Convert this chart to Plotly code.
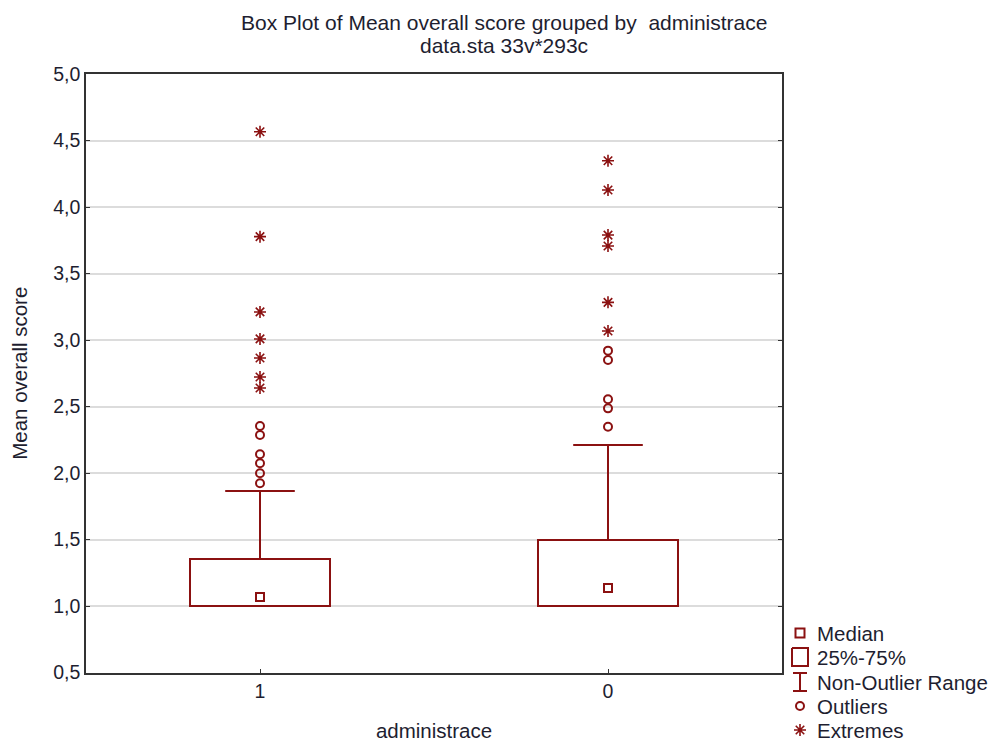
import plotly.graph_objects as go

# ---- data ----
groups = ["1", "0"]
q1 = [1.0, 1.0]
q3 = [1.353, 1.496]
median = [1.068, 1.135]
whisker_low = [1.0, 1.0]
whisker_high = [1.865, 2.211]
outliers_1 = [1.923, 1.998, 2.073, 2.141, 2.286, 2.353]
outliers_0 = [2.348, 2.486, 2.554, 2.850, 2.920]
extremes_1 = [2.639, 2.722, 2.865, 3.008, 3.211, 3.777, 4.566]
extremes_0 = [3.068, 3.283, 3.707, 3.789, 4.128, 4.348]
y_ticks = [0.5, 1.0, 1.5, 2.0, 2.5, 3.0, 3.5, 4.0, 4.5, 5.0]
legend_labels = ["Median", "25%-75%", "Non-Outlier Range", "Outliers", "Extremes"]

RED = "#8B1111"
TXT = "#1e1e30"
FONT = "Liberation Sans, Arial, sans-serif"
FS = 20.5
FT = 19.5

W, H = 992, 742
ML, MR, MT, MB = 86, 2, 74, 5
PW, PH = W - ML - MR, H - MT - MB
plot_right, plot_bottom = 782, 672.5

xpos = list(range(len(groups)))
fig = go.Figure()

# boxes (25%-75%)
fig.add_trace(go.Bar(
    x=xpos, base=q1, y=[b - a for a, b in zip(q1, q3)], width=0.4,
    marker=dict(color="white", line=dict(color=RED, width=2)),
    showlegend=False, hoverinfo="skip"))

# whiskers with caps
wx, wy = [], []
for i, (lo, hi, a, b) in enumerate(zip(whisker_low, whisker_high, q1, q3)):
    wx += [i, i, None, i - 0.1, i + 0.1, None, i, i, None]
    wy += [b, hi, None, hi, hi, None, a, lo, None]
fig.add_trace(go.Scatter(x=wx, y=wy, mode="lines", line=dict(color=RED, width=2),
                         showlegend=False, hoverinfo="skip"))

# medians
fig.add_trace(go.Scatter(x=xpos, y=median, mode="markers",
                         marker=dict(symbol="square-open", size=8, color=RED, line=dict(width=2)),
                         showlegend=False))
# outliers
ox = [0] * len(outliers_1) + [1] * len(outliers_0)
fig.add_trace(go.Scatter(x=ox, y=outliers_1 + outliers_0, mode="markers",
                         marker=dict(symbol="circle-open", size=8, color=RED, line=dict(width=2)),
                         showlegend=False))
# extremes
ex = [0] * len(extremes_1) + [1] * len(extremes_0)
fig.add_trace(go.Scatter(x=ex, y=extremes_1 + extremes_0, mode="markers",
                         marker=dict(symbol="asterisk-open", size=10, color=RED, line=dict(width=1.6)),
                         showlegend=False))

# ---- custom legend drawn on an overlay axis measured in pixels ----
lx = 800
rows = [633, 657, 682, 706, 730]
fig.add_trace(go.Scatter(x=[lx], y=[rows[0]], xaxis="x2", yaxis="y2", mode="markers",
                         marker=dict(symbol="square-open", size=9, color=RED, line=dict(width=2)),
                         showlegend=False, hoverinfo="skip"))
fig.add_trace(go.Scatter(x=[lx - 8, lx + 8, lx + 8, lx - 8, lx - 8], y=[rows[1] - 9, rows[1] - 9, rows[1] + 9, rows[1] + 9, rows[1] - 9],
                         xaxis="x2", yaxis="y2", mode="lines", line=dict(color=RED, width=2),
                         showlegend=False, hoverinfo="skip"))
fig.add_trace(go.Scatter(x=[lx - 7, lx + 7, None, lx, lx, None, lx - 7, lx + 7],
                         y=[rows[2] - 9, rows[2] - 9, None, rows[2] - 9, rows[2] + 9, None, rows[2] + 9, rows[2] + 9],
                         xaxis="x2", yaxis="y2", mode="lines", line=dict(color=RED, width=2),
                         showlegend=False, hoverinfo="skip"))
fig.add_trace(go.Scatter(x=[lx], y=[rows[3]], xaxis="x2", yaxis="y2", mode="markers",
                         marker=dict(symbol="circle-open", size=8, color=RED, line=dict(width=2)),
                         showlegend=False, hoverinfo="skip"))
fig.add_trace(go.Scatter(x=[lx], y=[rows[4]], xaxis="x2", yaxis="y2", mode="markers",
                         marker=dict(symbol="asterisk-open", size=10, color=RED, line=dict(width=1.6)),
                         showlegend=False, hoverinfo="skip"))

annotations = []
for r, lab in zip(rows, legend_labels):
    annotations.append(dict(x=815, y=r, xref="x2", yref="y2", text=lab, showarrow=False,
                            xanchor="left", yanchor="middle", font=dict(size=FS, color=TXT, family=FONT)))
# title lines
annotations.append(dict(x=(504 - ML) / PW, y=(H - MB - 22) / PH, xref="paper", yref="paper",
                        text="Box Plot of Mean overall score grouped by  administrace", showarrow=False,
                        xanchor="center", yanchor="middle", font=dict(size=21, color=TXT, family=FONT)))
annotations.append(dict(x=(504 - ML) / PW, y=(H - MB - 46) / PH, xref="paper", yref="paper",
                        text="data.sta 33v*293c", showarrow=False,
                        xanchor="center", yanchor="middle", font=dict(size=21, color=TXT, family=FONT)))

fig.update_layout(
    width=W, height=H, margin=dict(l=ML, r=MR, t=MT, b=MB, autoexpand=False),
    paper_bgcolor="white", plot_bgcolor="white",
    font=dict(family=FONT, size=FT, color=TXT),
    bargap=0, annotations=annotations,
    xaxis=dict(domain=[0, (plot_right - ML) / PW], range=[-0.5, 1.5], automargin=False,
               tickmode="array", tickvals=xpos, ticktext=groups, tickfont=dict(size=FT),
               showgrid=False, zeroline=False, showline=True, linecolor="#333", linewidth=1.5,
               mirror=True, ticks="inside", ticklen=4, tickcolor="#333",
               title=dict(text="administrace", standoff=26, font=dict(size=FS, color=TXT))),
    yaxis=dict(domain=[(H - MB - plot_bottom) / PH, 1], range=[0.5, 5.0], automargin=False,
               tickmode="array", tickvals=y_ticks, ticktext=[f"{v:.1f}".replace(".", ",") for v in y_ticks],
               tickfont=dict(size=FT),
               showgrid=True, gridcolor="#dcdcdc", gridwidth=1.5, zeroline=False,
               showline=True, linecolor="#333", linewidth=1.5, mirror="ticks",
               ticks="inside", ticklen=4, tickcolor="#333",
               title=dict(text="Mean overall score", standoff=20, font=dict(size=FS, color=TXT))),
    xaxis2=dict(domain=[(785 - ML) / PW, 1], range=[785, 990], visible=False, anchor="y2", fixedrange=True),
    yaxis2=dict(domain=[0, (H - MB - 612) / PH], range=[737, 612], visible=False, anchor="x2", fixedrange=True),
)

fig.write_html("out.html", config={"displayModeBar": False},
               post_script="document.body.style.margin='0';document.body.style.overflow='hidden';")
